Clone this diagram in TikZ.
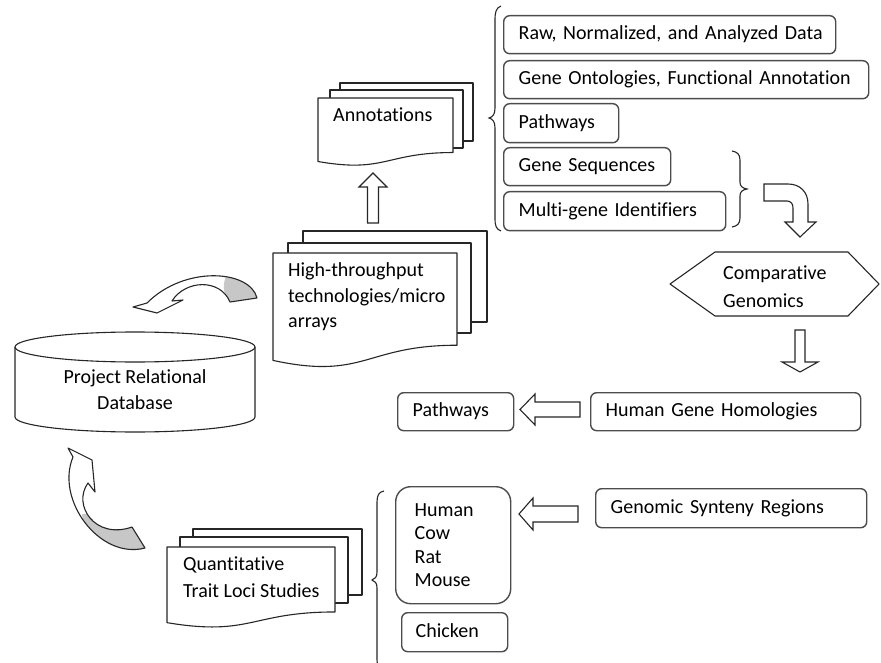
\documentclass[tikz,border=0pt]{standalone}
\usepackage{fontspec}
\setmainfont{Carlito}[Ligatures={NoCommon}]
\usetikzlibrary{calc}

% document shape with a wavy lower edge: x, y (top left), width, height
\newcommand\docshape[4]{%
  \draw[docline] (#1,#2) -- ({#1+#3},#2) -- ({#1+#3},{#2+0.802*#4})
    .. controls ({#1+0.5*#3},{#2+0.802*#4}) and ({#1+0.5*#3},{#2+1.107*#4})
    .. (#1,{#2+0.934*#4}) -- cycle;}

% outlines of the two curved arrows that lead into the database
\newcommand\upperarc{(257,298) .. controls (250,270) and (185,265) .. (147,303)
  -- (133,307) -- (157,313) -- (183,300) -- (172,301)
  .. controls (185,280) and (220,278) .. (230,302) -- cycle}
\newcommand\lowerarc{(68,448) -- (92,460) -- (95,492) -- (88,483)
  .. controls (72,505) and (95,540) .. (132,527) -- (145,548)
  .. controls (100,560) and (55,500) .. (73,457) -- cycle}

\begin{document}
\begin{tikzpicture}[x=1pt,y=-1pt,
  lbl/.style={font=\fontsize{20}{25}\selectfont, text=black, inner sep=0pt},
  docline/.style={draw=black!85, line width=1.1pt, fill=white, line join=round},
  blockarrow/.style={draw=black!85, line width=1.1pt, fill=white, line join=miter},
  arcline/.style={draw=black!85, line width=1.1pt, line join=round},
  bracket/.style={draw=black!85, line width=1.1pt},
  roundbox/.style={draw=black!70, line width=1.4pt, rounded corners=6pt, fill=white,
    anchor=north west, inner xsep=15pt, inner ysep=0pt, align=left,
    font=\fontsize{20}{25}\selectfont, text=black},
  oneline/.style={text height=14pt, text depth=4pt}
]
\useasboundingbox (0,0) rectangle (881,663);

% ---------- relational database cylinder ----------
\draw[docline] (15,347) -- (15,417) arc[start angle=180,end angle=360,x radius=120pt,y radius=15pt] -- (255,347);
\draw[docline] (135,347) ellipse[x radius=120pt, y radius=15pt];
\node[lbl, align=center, font=\fontsize{20}{26}\selectfont] (db) at (135,390) {Project Relational\\Database};

% ---------- high-throughput stack ----------
\draw[docline] (303,231) rectangle (487,322);
\draw[docline] (288,243) rectangle (471,333);
\docshape{273}{253}{184}{115}
\node[lbl, anchor=west, align=left, font=\fontsize{20}{25.5}\selectfont] (hts) at (288,297) {High-throughput\\technologies/micro\\arrays};

% ---------- annotations stack ----------
\draw[docline] (340,83) rectangle (473,141);
\draw[docline] (330,90) rectangle (463,148);
\docshape{318}{98}{135}{68}
\node[lbl, anchor=west] (ann) at (333,115) {Annotations};

% ---------- QTL stack ----------
\draw[docline] (193,529) rectangle (362,595);
\draw[docline] (180,537) rectangle (348,603);
\docshape{167}{547}{168}{81}
\node[lbl, anchor=west, align=left, font=\fontsize{20}{27}\selectfont] (qtl) at (183,577) {Quantitative\\Trait Loci Studies};

% ---------- annotation categories ----------
\node[roundbox, oneline, minimum width=332pt, minimum height=38pt, text width=302pt] (raw) at (503,15) {\mbox{Raw, Normalized, and Analyzed Data}};
\node[roundbox, oneline, minimum width=365pt, minimum height=38pt, text width=335pt] (onto) at (503,60) {\mbox{Gene Ontologies, Functional Annotation}};
\node[roundbox, oneline, minimum width=115pt, minimum height=39pt, text width=85pt] (path1) at (503,103) {Pathways};
\node[roundbox, oneline, minimum width=167pt, minimum height=38pt, text width=137pt] (seq) at (503,147) {\mbox{Gene Sequences}};
\node[roundbox, oneline, minimum width=222pt, minimum height=39pt, text width=192pt] (ids) at (503,191) {\mbox{Multi-gene Identifiers}};

% ---------- comparative genomics ----------
\draw[docline] (670,284) -- (715,252) -- (848,252) -- (879,284) -- (848,316) -- (715,316) -- cycle;
\node[lbl, anchor=west, align=left, font=\fontsize{20}{28}\selectfont] (cg) at (723,287) {Comparative\\Genomics};

\node[roundbox, oneline, minimum width=270pt, minimum height=38pt, text width=240pt] (hgh) at (590,392) {\mbox{Human Gene Homologies}};
\node[roundbox, oneline, minimum width=116pt, minimum height=38pt, text width=86pt] (path2) at (397,392) {Pathways};
\node[roundbox, oneline, minimum width=271pt, minimum height=39pt, text width=241pt] (gsr) at (595,488) {\mbox{Genomic Synteny Regions}};
\node[roundbox, rounded corners=15pt, inner xsep=19pt, minimum width=115pt, minimum height=117pt, text width=77pt, font=\fontsize{20}{23.3}\selectfont] (species) at (395,486) {Human\\Cow\\Rat\\Mouse};
\node[roundbox, oneline, inner xsep=14pt, minimum width=106pt, minimum height=39pt, text width=78pt] (chick) at (401,612) {Chicken};

% ---------- braces ----------
\draw[bracket] (501,6) .. controls (496,8) and (495,12) .. (495,20) -- (495,108)
  .. controls (495,114) and (493,117) .. (489,118) .. controls (493,119) and (495,122) .. (495,128)
  -- (495,218) .. controls (495,226) and (496,229) .. (501,231);
\draw[bracket] (732,151) .. controls (737,152) and (740,154) .. (740,160) -- (740,182)
  .. controls (740,186) and (742,188) .. (747,189) .. controls (742,190) and (740,192) .. (740,196)
  -- (740,218) .. controls (740,224) and (737,226) .. (732,227);
\draw[bracket] (384,491) .. controls (379,492) and (377,495) .. (377,502) -- (377,572)
  .. controls (377,577) and (375,579) .. (372,580) .. controls (375,581) and (377,583) .. (377,588)
  -- (377,660) .. controls (377,666) and (379,669) .. (384,670);

% ---------- block arrows ----------
% high-throughput -> annotations
\draw[blockarrow] (367.5,223) -- (367.5,187) -- (359,187) -- (373,173) -- (387,187) -- (378.5,187) -- (378.5,223) -- cycle;
% bent arrow -> comparative genomics
\draw[blockarrow] (764,184) -- (788,184) .. controls (800,184) and (808,192) .. (808,204) -- (808,222)
  -- (816,222) -- (800,237) -- (785,222) -- (793,222) -- (793,208)
  .. controls (793,204) and (791,201) .. (787,201) -- (764,201) -- cycle;
% comparative genomics -> human gene homologies
\draw[blockarrow] (795,330) -- (805,330) -- (805,362) -- (818,362) -- (800,372) -- (782,362) -- (795,362) -- cycle;
% human gene homologies -> pathways
\draw[blockarrow] (580,402) -- (535,402) -- (535,394) -- (520,409.5) -- (535,425) -- (535,417) -- (580,417) -- cycle;
% synteny -> species
\draw[blockarrow] (578,506) -- (533,506) -- (533,498) -- (519,514) -- (533,530) -- (533,522) -- (578,522) -- cycle;

% ---------- curved arrows into the database ----------
\fill[white] \upperarc;
\begin{scope}
  \clip \upperarc;
  \fill[black!22] (231,304) .. controls (222,294) and (222,283) .. (228,272) -- (262,272) -- (262,306) -- cycle;
\end{scope}
\draw[arcline] \upperarc;

\fill[white] \lowerarc;
\begin{scope}
  \clip \lowerarc;
  \fill[black!22] (82,514) .. controls (84,525) and (84,535) .. (90,546) -- (150,562) -- (150,515) -- cycle;
\end{scope}
\draw[arcline] \lowerarc;
\end{tikzpicture}
\end{document}
